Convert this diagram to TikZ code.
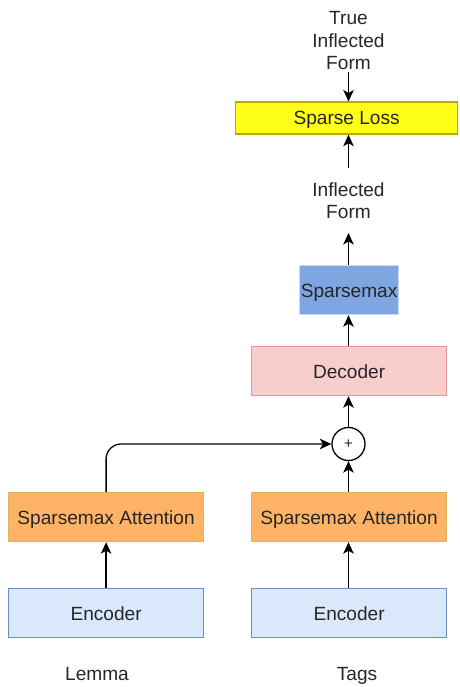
\documentclass[tikz,border=0pt]{standalone}
\usepackage{fontspec}
\setmainfont{Liberation Sans}
\usetikzlibrary{arrows.meta}
\definecolor{encfill}{HTML}{DAE8FC}
\definecolor{encdraw}{HTML}{6C8EBF}
\definecolor{attfill}{HTML}{FFB366}
\definecolor{attdraw}{HTML}{D6B656}
\definecolor{decfill}{HTML}{F8CECC}
\definecolor{decdraw}{HTML}{EA9490}
\definecolor{smfill}{HTML}{7EA6E0}
\definecolor{smdraw}{HTML}{C9D9F2}
\definecolor{lossfill}{HTML}{FFFF1A}
\definecolor{lossdraw}{HTML}{C2A600}
\definecolor{txt}{HTML}{262626}
\begin{document}
\begin{tikzpicture}[x=1pt,y=-1pt,
  font=\fontsize{19.1}{22.5}\selectfont, text=txt,
  box/.style={draw, line width=1.2pt, inner sep=0pt, text height=13.8pt, text depth=0pt, anchor=north west},
  lbl/.style={align=center, inner xsep=0pt},
  conn/.style={line width=1.3pt, -{Stealth[length=11.5pt,width=10.5pt,inset=3pt]}}
]
\useasboundingbox (0,0) rectangle (459,687);
% boxes
\node[box, fill=encfill, draw=encdraw, minimum width=195pt, minimum height=49pt] (encL) at (8,588) {Encoder};
\node[box, fill=encfill, draw=encdraw, minimum width=195pt, minimum height=49pt] (encR) at (251,588) {Encoder};
\node[box, fill=attfill, draw=attdraw, minimum width=195pt, minimum height=49pt] (attL) at (8,492) {Sparsemax Attention};
\node[box, fill=attfill, draw=attdraw, minimum width=195pt, minimum height=49pt] (attR) at (251,492) {Sparsemax Attention};
\node[box, fill=decfill, draw=decdraw, minimum width=195pt, minimum height=49pt] (dec) at (251,346) {Decoder};
\node[box, fill=smfill, draw=smdraw, minimum width=99pt, minimum height=49pt] (sm) at (299,265) {Sparsemax};
\node[box, fill=lossfill, draw=lossdraw, minimum width=222pt, minimum height=32pt] (loss) at (235,101.5) {Sparse Loss};
\node[draw, circle, line width=1.3pt, minimum size=33pt, inner sep=0pt, font=\fontsize{15}{17}\selectfont] (plus) at (348.5,444) {+};
% labels
\node[lbl, anchor=south, inner ysep=14pt] (infl) at (348.5,233) {Inflected\\Form};
\node[lbl, anchor=south, inner ysep=2pt] (true) at (348.5,72) {True\\Inflected\\Form};
\node[lbl, anchor=base] (lemma) at (97,680) {Lemma};
\node[lbl, anchor=base] (tags) at (357,680) {Tags};
% connectors
\draw[conn] (encL.north) -- (attL.south);
\draw[conn] (encR.north -| plus) -- (attR.south -| plus);
\draw[conn, rounded corners=15pt] (attL.north) |- (plus.west);
\draw[conn] (attR.north -| plus) -- (plus.south);
\draw[conn] (plus.north) -- (dec.south -| plus);
\draw[conn] (dec.north -| plus) -- (sm.south -| plus);
\draw[conn] (sm.north -| plus) -- (infl.south);
\draw[conn] (infl.north) -- (loss.south -| infl);
\draw[conn] (true.south) -- (loss.north -| true);
\end{tikzpicture}
\end{document}
